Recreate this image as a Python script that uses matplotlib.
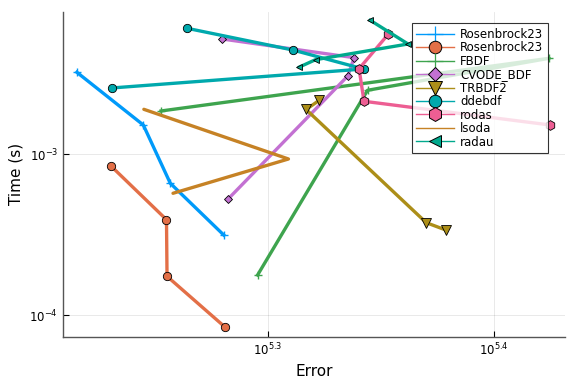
import matplotlib
matplotlib.use("Agg")
import matplotlib.pyplot as plt
from matplotlib.lines import Line2D
from matplotlib.ticker import NullLocator

plt.rcParams['font.family'] = ['DejaVu Sans']
plt.rcParams['mathtext.fontset'] = 'dejavusans'

# ============================================
# Work-precision data (error vs time)
# ============================================

labels = ["Rosenbrock23", "Rosenbrock23", "FBDF", "CVODE_BDF", "TRBDF2",
          "ddebdf", "rodas", "lsoda", "radau"]

err_ros23a = [164200, 175700, 180600, 190700]
time_ros23a = [3.240e-3, 1.525e-3, 6.625e-4, 3.162e-4]

err_ros23b = [170000, 179900, 180000, 191000]
time_ros23b = [8.485e-4, 3.936e-4, 1.751e-4, 8.445e-5]

err_fbdf = [197400, 220800, 265700, 178900]
time_fbdf = [1.784e-4, 2.505e-3, 3.959e-3, 1.863e-3]

err_cvode = [190400, 217800, 216400, 191500]
time_cvode = [5.216e-3, 3.993e-3, 3.073e-3, 5.267e-4]

err_trbdf2 = [210200, 207400, 234400, 239100]
time_trbdf2 = [2.171e-3, 1.903e-3, 3.771e-4, 3.397e-4]

err_ddebdf = [183700, 204600, 219900, 170100]
time_ddebdf = [6.080e-3, 4.457e-3, 3.397e-3, 2.588e-3]

err_rodas = [225500, 218900, 220000, 265900]
time_rodas = [5.580e-3, 3.411e-3, 2.140e-3, 1.525e-3]

err_lsoda = [175800, 203700, 181100]
time_lsoda = [1.908e-3, 9.376e-4, 5.741e-4]

err_radau = [221400, 230100, 209400, 206000]
time_radau = [6.816e-3, 4.856e-3, 3.880e-3, 3.495e-3]

series = [
    (err_ros23a, time_ros23a, "#009AFA", "+"),
    (err_ros23b, time_ros23b, "#E36F47", "o"),
    (err_fbdf, time_fbdf, "#3EA44E", "+"),
    (err_cvode, time_cvode, "#C371D2", "D"),
    (err_trbdf2, time_trbdf2, "#AC8E18", "v"),
    (err_ddebdf, time_ddebdf, "#00A9AD", "o"),
    (err_rodas, time_rodas, "#ED5E93", "h"),
    (err_lsoda, time_lsoda, "#C68225", None),
    (err_radau, time_radau, "#00A98D", "<"),
]

marker_size = {"+": 6, "o": 6, "D": 4.5, "v": 7, "h": 7, "<": 5}

# ============================================
# Plot
# ============================================

fig = plt.figure(figsize=(5.76, 3.84), dpi=100)
ax = fig.add_axes([0.1094, 0.1232, 0.8715, 0.8456])

handles = []
for (x, y, color, mk), lab in zip(series, labels):
    if mk is None:
        ax.plot(x, y, color=color, lw=2.4, solid_capstyle="round")
        handles.append(Line2D([], [], color=color, lw=1.0))
        continue
    if mk == "+":
        ax.plot(x, y, color=color, lw=2.4, marker=mk, ms=marker_size[mk],
                mew=1.0, solid_joinstyle="round")
        handles.append(Line2D([], [], color=color, lw=1.0, marker=mk,
                              ms=11, mew=0.9))
    else:
        ax.plot(x, y, color=color, lw=2.4, marker=mk, ms=marker_size[mk],
                mec="black", mew=0.6, solid_joinstyle="round")
        handles.append(Line2D([], [], color=color, lw=1.0, marker=mk,
                              ms=marker_size[mk] + 3, mec="black", mew=0.7))

ax.set_xscale("log")
ax.set_yscale("log")
ax.set_xlim(161900, 270000)
ax.set_ylim(7.383e-5, 7.676e-3)

ax.set_xticks([10**5.3, 10**5.4])
ax.set_xticklabels([r"$10^{5.3}$", r"$10^{5.4}$"])
ax.set_yticks([1e-4, 1e-3])
ax.set_yticklabels([r"$10^{-4}$", r"$10^{-3}$"])
ax.xaxis.set_minor_locator(NullLocator())
ax.yaxis.set_minor_locator(NullLocator())
ax.tick_params(direction="in", length=4, width=0.8, labelsize=8.5,
               color="black")

ax.grid(True, color="black", alpha=0.1, lw=0.6)
for s in ["top", "right"]:
    ax.spines[s].set_visible(False)
for s in ["left", "bottom"]:
    ax.spines[s].set_color("#555555")
    ax.spines[s].set_linewidth(1.0)

ax.set_xlabel("Error", fontsize=11)
ax.set_ylabel("Time (s)", fontsize=11)

leg = ax.legend(handles, labels, loc="upper right", fontsize=8.5,
                bbox_to_anchor=(0.966, 0.966), frameon=True, fancybox=False,
                borderpad=0.4, labelspacing=0.04, handlelength=3.2,
                handletextpad=0.5, borderaxespad=0.0)
leg.get_frame().set_edgecolor("black")
leg.get_frame().set_linewidth(0.8)

fig.savefig("out.png", dpi=100)
